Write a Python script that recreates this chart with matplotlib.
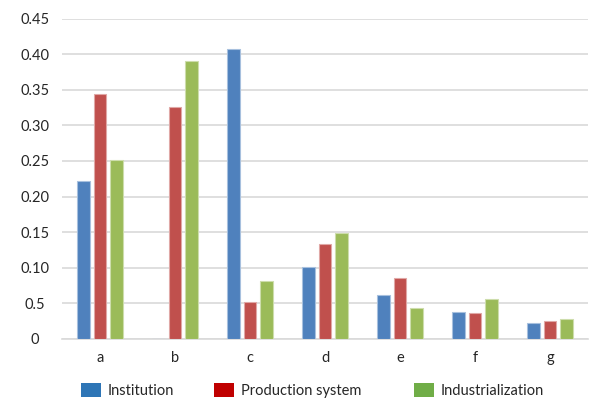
import numpy as np
import matplotlib.pyplot as plt
from matplotlib.patches import Rectangle

plt.rcParams['font.family'] = ['Lato', 'DejaVu Sans']

# Datos
categories = ['a', 'b', 'c', 'd', 'e', 'f', 'g']
series_names = ['Institution', 'Production system', 'Industrialization']
institution = [0.222, 0.0, 0.407, 0.101, 0.062, 0.038, 0.022]
production = [0.344, 0.326, 0.052, 0.133, 0.085, 0.036, 0.025]
industrialization = [0.252, 0.391, 0.082, 0.149, 0.044, 0.056, 0.028]
ytick_values = [0, 0.05, 0.10, 0.15, 0.20, 0.25, 0.30, 0.35, 0.40, 0.45]
ytick_labels = ['0', '0.5', '0.10', '0.15', '0.20', '0.25', '0.30', '0.35', '0.40', '0.45']

#Colores
bar_colors = ['#4F81BD', '#C0504D', '#9BBB59']
edge_colors = ['#A7C0DE', '#E0A8A6', '#CDDDAC']
legend_colors = ['#2E75B6', '#C00000', '#70AD47']

fig = plt.figure(figsize=(5.89, 3.99), dpi=100)
ax = fig.add_axes([0.1061, 0.1504, 0.8914, 0.8032])

x = np.arange(len(categories))
offsets = [-0.22, 0.0, 0.22]
values = [institution, production, industrialization]

for k in range(3):
    ax.bar(x + offsets[k], values[k], width=0.17, color=bar_colors[k],
           edgecolor=edge_colors[k], linewidth=0.8, zorder=3)

ax.set_xlim(-0.5, len(categories) - 0.5)
ax.set_ylim(0, 0.45)
ax.set_yticks(ytick_values)
ax.set_yticklabels(ytick_labels, ha='center')
ax.set_xticks(x)
ax.set_xticklabels(categories)
ax.tick_params(axis='y', length=0, pad=20, labelsize=10.5, labelcolor='#262626')
ax.tick_params(axis='x', length=0, pad=9, labelsize=10.5, labelcolor='#262626')

ax.grid(axis='y', color='#D9D9D9', linewidth=1.2, zorder=0)
for s in ['top', 'right', 'left']:
    ax.spines[s].set_visible(False)
ax.spines['bottom'].set_color('#D9D9D9')
ax.spines['bottom'].set_linewidth(1.2)

# Leyenda (a mano, posiciones irregulares como en el original)
leg_x = [81, 214, 414]
W, H = 589.0, 399.0
for k in range(3):
    fig.patches.append(Rectangle((leg_x[k] / W, (H - 397) / H), 20 / W, 14 / H,
                                 transform=fig.transFigure, facecolor=legend_colors[k],
                                 edgecolor='none'))
    fig.text((leg_x[k] + 27) / W, (H - 391) / H, series_names[k],
             fontsize=10.5, color='#262626', va='center', ha='left')

fig.savefig('out.png', dpi=100)
